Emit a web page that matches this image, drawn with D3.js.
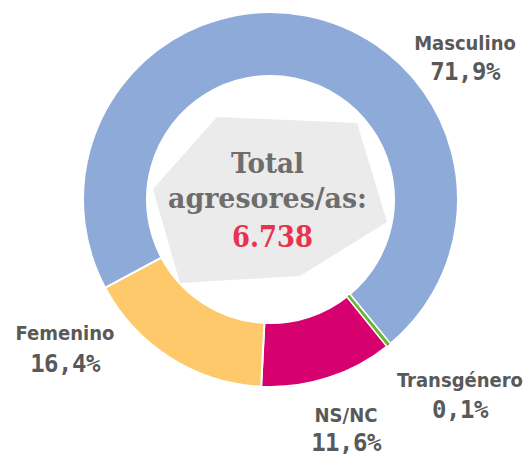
<!DOCTYPE html>
<html>
<head>
<meta charset="utf-8">
<script src="https://d3js.org/d3.v7.min.js"></script>
<style>
 body { margin: 0; background: #fff; }
 svg { display: block; }
</style>
</head>
<body>
<svg width="523" height="456"></svg>
<script>
 // data
 const categories = ["Masculino", "Transgénero", "NS/NC", "Femenino"];
 const values = [71.9, 0.1, 11.6, 16.4];
 const pctLabels = ["71,9%", "0,1%", "11,6%", "16,4%"];
 const colors = ["#8eaad9", "#68b42e", "#d6006f", "#fec96b"];
 const totalLabel = ["Total", "agresores/as:"];
 const totalValue = "6.738";

 const svg = d3.select("svg");
 const cx = 270.5, cy = 199.5;
 const outerR = 187.5, innerR = 123.5;

 const g = svg.append("g").attr("transform", `translate(${cx},${cy})`);

 const start = 241.9 * Math.PI / 180;
 const pie = d3.pie().sort(null).value(d => d.value)
   .startAngle(start).endAngle(start + 2 * Math.PI);
 const arc = d3.arc().innerRadius(innerR).outerRadius(outerR);

 const slices = pie(categories.map((c, i) => ({name: c, value: values[i], color: colors[i], pct: pctLabels[i]})));

 g.selectAll("path.slice")
  .data(slices)
  .join("path")
  .attr("class", "slice")
  .attr("d", arc)
  .attr("fill", d => d.data.color)
  .attr("stroke", "#fff")
  .attr("stroke-width", 2);

 // tiny slice: white gap around, green sliver on top
 const tiny = slices.filter(d => d.data.value < 1);
 g.selectAll("path.tiny-bg").data(tiny).join("path")
  .attr("class", "tiny-bg")
  .attr("d", arc)
  .attr("fill", "#fff")
  .attr("stroke", "#fff")
  .attr("stroke-width", 5);
 g.selectAll("path.tiny").data(tiny).join("path")
  .attr("class", "tiny")
  .attr("d", d3.arc().innerRadius(innerR + 1).outerRadius(outerR - 1))
  .attr("fill", d => d.data.color)
  .attr("stroke", d => d.data.color)
  .attr("stroke-width", 1.8);

 // grey shape behind the total
 const shape = [[-53.5, -82.5], [86.5, -76.5], [116.5, 22.5], [29.5, 76.5], [-90.5, 83.5], [-117.5, -10.5]];
 g.append("polygon")
  .attr("points", shape.map(p => p.join(",")).join(" "))
  .attr("fill", "#ebebeb");

 const slab = "'DejaVu Serif', serif";
 g.append("text")
  .attr("text-anchor", "middle").attr("x", -3).attr("y", -26.5)
  .attr("font-family", slab).attr("font-weight", "bold").attr("font-size", 28)
  .attr("fill", "#6d6d6d")
  .attr("textLength", 73).attr("lengthAdjust", "spacingAndGlyphs")
  .text(totalLabel[0]);
 g.append("text")
  .attr("text-anchor", "middle").attr("x", -3).attr("y", 8.5)
  .attr("font-family", slab).attr("font-weight", "bold").attr("font-size", 28)
  .attr("fill", "#6d6d6d")
  .attr("textLength", 199).attr("lengthAdjust", "spacingAndGlyphs")
  .text(totalLabel[1]);
 g.append("text")
  .attr("text-anchor", "middle").attr("x", 2).attr("y", 47.5)
  .attr("font-family", slab).attr("font-weight", "bold").attr("font-size", 29)
  .attr("fill", "#e8334f")
  .attr("textLength", 81).attr("lengthAdjust", "spacingAndGlyphs")
  .text(totalValue);

 // outside labels
 const labelPos = {
   "Masculino": [465, 50, 80],
   "Transgénero": [460, 387, 418],
   "NS/NC": [346, 422, 451],
   "Femenino": [65, 340, 372]
 };
 const labels = svg.append("g");
 slices.forEach(d => {
   const p = labelPos[d.data.name];
   labels.append("text")
    .attr("text-anchor", "middle").attr("x", p[0]).attr("y", p[1])
    .attr("font-family", "'DejaVu Sans Condensed', 'DejaVu Sans', sans-serif")
    .attr("font-weight", "bold")
    .attr("font-size", 20).attr("fill", "#595959")
    .text(d.data.name);
   labels.append("text")
    .attr("text-anchor", "middle").attr("x", p[0]).attr("y", p[2])
    .attr("font-family", "'DejaVu Sans Mono', monospace").attr("font-weight", "bold")
    .attr("font-size", 24).attr("fill", "#595959")
    .attr("letter-spacing", -0.5)
    .text(d.data.pct);
 });
</script>
</body>
</html>
